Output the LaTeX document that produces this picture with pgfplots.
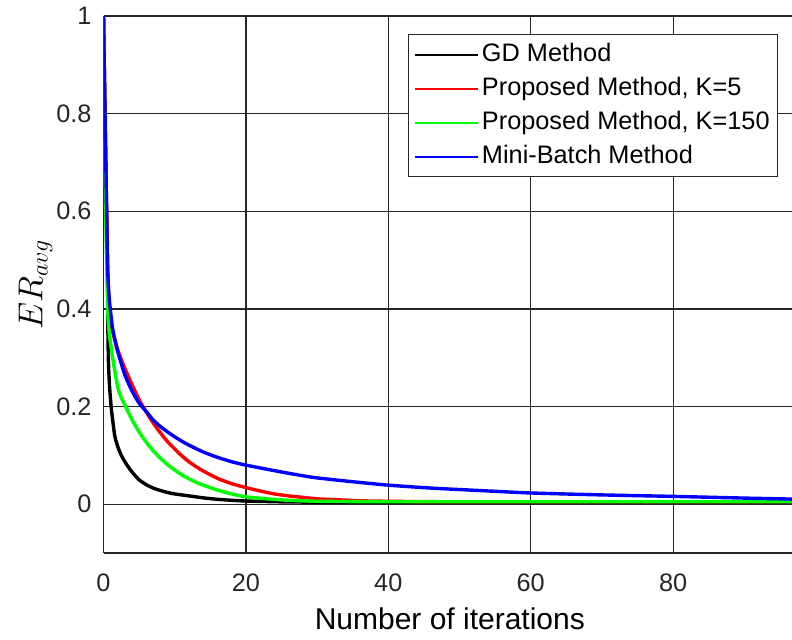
\documentclass[border=0pt]{standalone}
\usepackage{fontspec}
\setmainfont{Liberation Sans}
\usepackage{pgfplots}
\pgfplotsset{compat=1.18}
\usetikzlibrary{calc}
\definecolor{axgray}{RGB}{38,38,38}
\begin{document}
\begin{tikzpicture}
\path[use as bounding box] (-51.75pt,-43pt) rectangle (344.25pt,276.5pt);
\begin{axis}[
  at={(0,0)}, anchor=south west,
  scale only axis, width=344.25pt, height=268.5pt,
  xmin=0, xmax=96.7, ymin=-0.1, ymax=1,
  xtick={0,20,40,60,80}, ytick={0,0.2,0.4,0.6,0.8,1},
  grid=major, major grid style={line width=0.6pt, color=axgray},
  axis x line*=box, axis y line*=left,
  axis line style={line width=0.6pt, color=axgray},
  tick align=inside, major tick length=4pt, tick style={axgray, line width=0.6pt},
  ticklabel style={font=\fontsize{12.65}{15}\selectfont, text=axgray},
  /pgf/number format/assume math mode=true,
  xticklabel style={yshift=-7pt},
  yticklabel style={xshift=-2.5pt},
  xlabel={Number of iterations},
  xlabel style={font=\fontsize{15}{18}\selectfont, at={(rel axis cs:0.503,0)}, anchor=base, yshift=-38pt},
  ylabel={$ER_{avg}$},
  ylabel style={font=\fontsize{18}{21}\selectfont, at={($(rel axis cs:0,0.5)+(-34pt,0pt)$)}, anchor=center},
  legend style={at={(rel axis cs:0.98,0.966)}, anchor=north east, draw=axgray, line width=0.6pt, fill=white,
    inner xsep=2.75pt, inner ysep=1.5pt, row sep=0pt,
    font=\fontsize{12.65}{15}\selectfont,
    nodes={inner xsep=1.25pt, inner ysep=2.5pt, text height=9.2pt, text depth=2.8pt}},
  legend cell align=left,
  legend image code/.code={\draw[#1, line width=1.35pt] (0pt,0pt) -- (31.5pt,0pt);},
  every axis plot/.append style={line width=1.7pt, smooth, tension=0.4},
]
\addplot[black] coordinates {(0,1) (0.3,0.72) (0.5,0.55) (0.6,0.42) (0.63,0.34) (0.7,0.29) (0.77,0.264) (0.87,0.237) (1.1,0.196) (1.57,0.141) (2,0.118) (2.5,0.1) (3,0.087) (3.5,0.076) (4,0.066) (5,0.05) (6,0.04) (7,0.033) (8,0.028) (9,0.024) (10,0.021) (12,0.017) (14,0.013) (16,0.01) (18,0.008) (20,0.0065) (25,0.0048) (30,0.0042) (40,0.004) (60,0.004) (80,0.004) (100,0.004)};
\addlegendentry{GD Method}
\addplot[red] coordinates {(0,1) (0.3,0.7) (0.55,0.5) (0.8,0.41) (1.1,0.366) (1.8,0.325) (2.4,0.3) (3,0.278) (4,0.245) (5,0.214) (6,0.189) (7,0.166) (8,0.146) (9,0.128) (10,0.113) (11,0.099) (12,0.087) (13,0.077) (14,0.068) (16,0.053) (18,0.042) (20,0.034) (22,0.027) (24,0.021) (26,0.017) (28,0.014) (30,0.011) (33,0.009) (36,0.007) (40,0.006) (50,0.005) (100,0.005)};
\addlegendentry{Proposed Method, K=5}
\addplot[green] coordinates {(0,1) (0.2,0.74) (0.35,0.56) (0.5,0.46) (0.63,0.386) (0.8,0.35) (1.1,0.318) (1.5,0.28) (2.04,0.237) (2.6,0.215) (3.2,0.197) (4,0.173) (5,0.148) (6,0.127) (7,0.109) (8,0.094) (9,0.081) (10,0.07) (11,0.06) (12,0.052) (13,0.045) (14,0.039) (16,0.029) (18,0.021) (20,0.015) (23,0.011) (26,0.008) (30,0.006) (40,0.005) (60,0.005) (100,0.005)};
\addlegendentry{Proposed Method, K=150}
\addplot[blue] coordinates {(0,1) (0.3,0.72) (0.55,0.5) (0.75,0.43) (1.1,0.38) (1.33,0.355) (1.8,0.325) (2.04,0.31) (3,0.265) (4,0.232) (5,0.207) (6,0.19) (7,0.172) (8,0.159) (9,0.148) (10,0.138) (11,0.129) (12,0.121) (14,0.107) (16,0.096) (18,0.087) (20,0.08) (25,0.066) (29.4,0.055) (35,0.046) (40,0.039) (46,0.033) (52.8,0.028) (60,0.023) (70,0.019) (80,0.016) (90,0.0125) (100,0.0095)};
\addlegendentry{Mini-Batch Method}
\end{axis}
\end{tikzpicture}
\end{document}
